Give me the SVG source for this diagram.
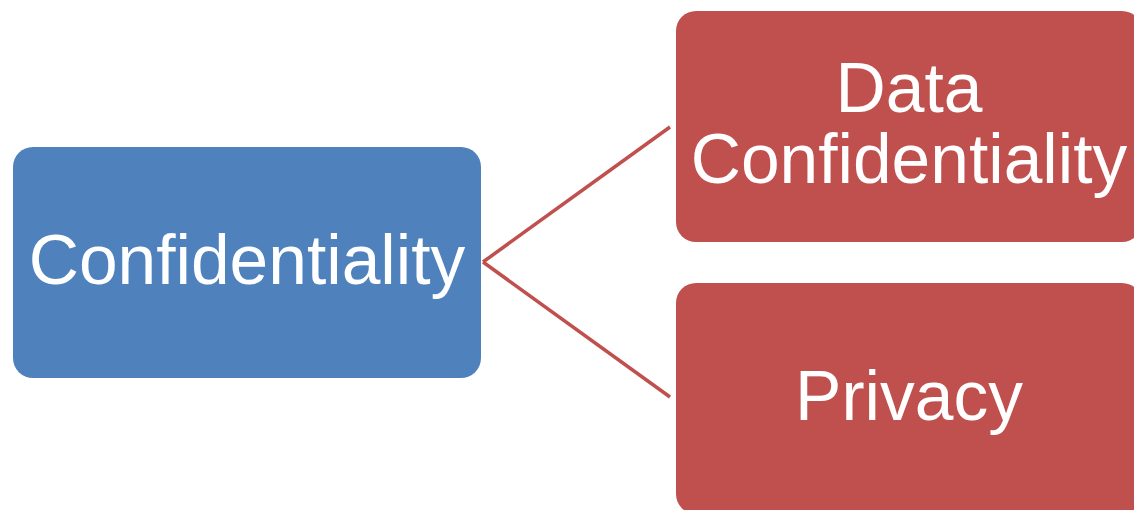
<svg xmlns="http://www.w3.org/2000/svg" width="1134" height="510" viewBox="0 0 1134 510">
<style>
.lbl{font-family:"Liberation Sans",Arial,sans-serif;font-size:69.5px;fill:#FFFFFF;text-anchor:middle}
.conn{stroke:#C0504D;stroke-width:3.5;fill:none}
</style>
<rect width="1134" height="510" fill="#FFFFFF"/>
<g id="connectors">
<line class="conn" x1="483" y1="262" x2="670" y2="127"/>
<line class="conn" x1="483" y1="262" x2="670" y2="397"/>
</g>
<g id="node-confidentiality">
<rect x="13" y="147" width="468" height="231" rx="20" fill="#4F81BD"/>
<text class="lbl" x="247" y="284">Confidentiality</text>
</g>
<g id="node-data-confidentiality">
<rect x="676" y="11" width="466" height="231" rx="20" fill="#C0504D"/>
<text class="lbl" x="909" y="112">Data</text>
<text class="lbl" x="909" y="183">Confidentiality</text>
</g>
<g id="node-privacy">
<rect x="676" y="283" width="466" height="231" rx="20" fill="#C0504D"/>
<text class="lbl" x="909" y="420">Privacy</text>
</g>
</svg>
